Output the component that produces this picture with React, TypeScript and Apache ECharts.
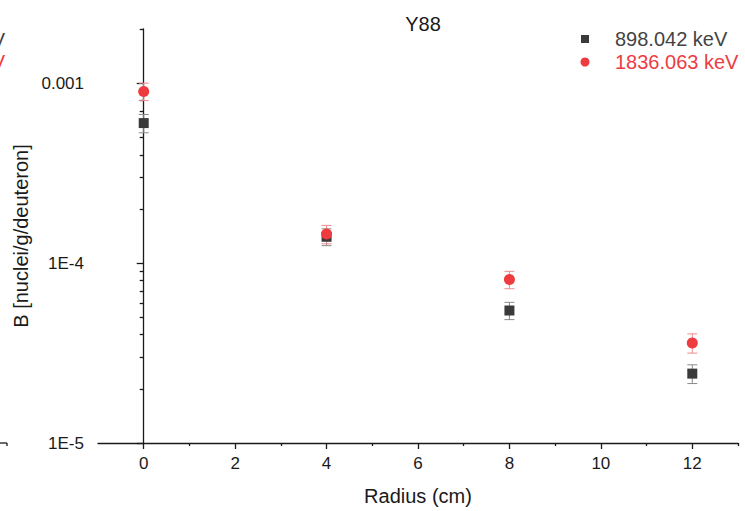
import React, { useEffect, useRef } from "react";
import * as echarts from "echarts";

// Radial positions (cm)
const radius = [0, 4, 8, 12];

// 898.042 keV line: activity and uncertainty
const line898 = [0.0006, 0.00014, 5.45e-5, 2.43e-5];
const line898Err = [0.00007, 0.000015, 6e-6, 2.9e-6];

// 1836.063 keV line: activity and uncertainty
const line1836 = [0.0009, 0.000145, 8.1e-5, 3.6e-5];
const line1836Err = [0.0001, 0.000017, 9e-6, 4.4e-6];

// Series names
const name898 = "898.042 keV";
const name1836 = "1836.063 keV";

// Axis ticks
const xMajorTicks = [0, 2, 4, 6, 8, 10, 12];
const xMinorTicks = [1, 3, 5, 7, 9, 11, 13];
const yMajorTicks = [1e-5, 1e-4, 1e-3];
const yMinorTicks = [
  2e-5, 3e-5, 4e-5, 5e-5, 6e-5, 7e-5, 8e-5, 9e-5,
  2e-4, 3e-4, 4e-4, 5e-4, 6e-4, 7e-4, 8e-4, 9e-4,
  0.0019999,
];
const yTickLabels: Record<string, string> = {
  "0.00001": "1E-5",
  "0.0001": "1E-4",
  "0.001": "0.001",
};

const FONT = "'Liberation Sans', Arial, sans-serif";
const INK = "#1a1a1a";
const BLACK = "#3a3a3a";
const RED = "#ee3b3f";

function errorBarSeries(name: string, values: number[], errs: number[], color: string) {
  return {
    type: "custom",
    name,
    xAxisIndex: 0,
    yAxisIndex: 0,
    silent: true,
    data: radius.map((x, i) => [x, values[i] - errs[i], values[i] + errs[i]]),
    renderItem: (params: any, api: any) => {
      const x = api.value(0);
      const lo = api.coord([x, api.value(1)]);
      const hi = api.coord([x, api.value(2)]);
      const cap = 5;
      const style = { stroke: color, lineWidth: 1 };
      return {
        type: "group",
        children: [
          { type: "line", shape: { x1: lo[0], y1: lo[1], x2: hi[0], y2: hi[1] }, style },
          { type: "line", shape: { x1: lo[0] - cap, y1: lo[1], x2: lo[0] + cap, y2: lo[1] }, style },
          { type: "line", shape: { x1: hi[0] - cap, y1: hi[1], x2: hi[0] + cap, y2: hi[1] }, style },
        ],
      };
    },
  };
}

export default function App() {
  const ref = useRef<HTMLDivElement>(null);

  useEffect(() => {
    document.body.style.margin = "0";
    const chart = echarts.init(ref.current!, null, { renderer: "svg" });
    const axisText = { color: INK, fontSize: 17, fontFamily: FONT };
    const tickStyle = { color: INK, width: 1.3 };
    chart.setOption({
      animation: false,
      backgroundColor: "#ffffff",
      title: {
        text: "Y88",
        left: 418,
        textAlign: "center",
        top: 9,
        textStyle: { color: INK, fontSize: 20, fontWeight: "normal", fontFamily: FONT },
      },
      grid: { left: 98, right: 7, top: 29, bottom: 68 },
      xAxis: [
        {
          type: "value",
          min: -1,
          max: 13,
          name: "Radius (cm)",
          nameLocation: "middle",
          nameGap: 43,
          nameTextStyle: { color: INK, fontSize: 20, fontFamily: FONT },
          axisLine: { lineStyle: tickStyle },
          axisTick: { customValues: xMajorTicks, length: 6, lineStyle: tickStyle },
          axisLabel: { customValues: xMajorTicks, margin: 12, ...axisText },
          splitLine: { show: false },
        },
        {
          type: "value",
          min: -1,
          max: 13,
          position: "bottom",
          axisLine: { show: false },
          axisTick: { customValues: xMinorTicks, length: 3, lineStyle: tickStyle },
          axisLabel: { show: false },
          splitLine: { show: false },
        },
      ],
      yAxis: [
        {
          type: "log",
          logBase: 10,
          min: 1e-5,
          max: 0.002,
          name: "B [nuclei/g/deuteron]",
          nameLocation: "middle",
          nameGap: 63,
          nameTextStyle: { color: INK, fontSize: 20, fontFamily: FONT },
          axisLine: { show: true, lineStyle: tickStyle },
          axisTick: { customValues: yMajorTicks, length: 7, lineStyle: tickStyle },
          axisLabel: {
            customValues: yMajorTicks,
            margin: 14,
            formatter: (v: number) => yTickLabels[String(Number(v.toPrecision(6)))] ?? "",
            ...axisText,
          },
          splitLine: { show: false },
        },
        {
          type: "log",
          logBase: 10,
          min: 1e-5,
          max: 0.002,
          position: "left",
          axisLine: { show: false },
          axisTick: { customValues: yMinorTicks, length: 4, lineStyle: tickStyle },
          axisLabel: { show: false },
          splitLine: { show: false },
        },
      ],
      graphic: [
        // Legend
        { type: "rect", shape: { x: 581, y: 35, width: 8, height: 8 }, style: { fill: BLACK } },
        { type: "text", x: 615, y: 39, style: { text: name898, fill: "#444", font: `20px ${FONT}`, verticalAlign: "middle" } },
        { type: "circle", shape: { cx: 585, cy: 62, r: 4.5 }, style: { fill: RED } },
        { type: "text", x: 615, y: 62, style: { text: name1836, fill: RED, font: `20px ${FONT}`, verticalAlign: "middle" } },
        // Edge of the neighbouring panel on the left
        { type: "text", x: 5, y: 40, style: { text: "keV", fill: "#444", font: `20px ${FONT}`, textAlign: "right", verticalAlign: "middle" } },
        { type: "text", x: 5, y: 62, style: { text: "keV", fill: RED, font: `20px ${FONT}`, textAlign: "right", verticalAlign: "middle" } },
        { type: "line", shape: { x1: 0, y1: 443, x2: 7, y2: 443 }, style: { stroke: INK, lineWidth: 1.3 } },
        { type: "line", shape: { x1: 7, y1: 443, x2: 7, y2: 446 }, style: { stroke: INK, lineWidth: 1.3 } },
      ],
      series: [
        errorBarSeries("err898", line898, line898Err, "#8a8a8a"),
        {
          type: "scatter",
          name: name898,
          symbol: "rect",
          symbolSize: 10,
          itemStyle: { color: BLACK, opacity: 1 },
          data: radius.map((x, i) => [x, line898[i]]),
        },
        errorBarSeries("err1836", line1836, line1836Err, "#f08a8c"),
        {
          type: "scatter",
          name: name1836,
          symbol: "circle",
          symbolSize: 11,
          itemStyle: { color: RED, opacity: 1 },
          data: radius.map((x, i) => [x, line1836[i]]),
        },
      ],
    });
    return () => chart.dispose();
  }, []);

  return <div ref={ref} style={{ position: "absolute", left: 0, top: 0, width: 745, height: 511 }} />;
}
